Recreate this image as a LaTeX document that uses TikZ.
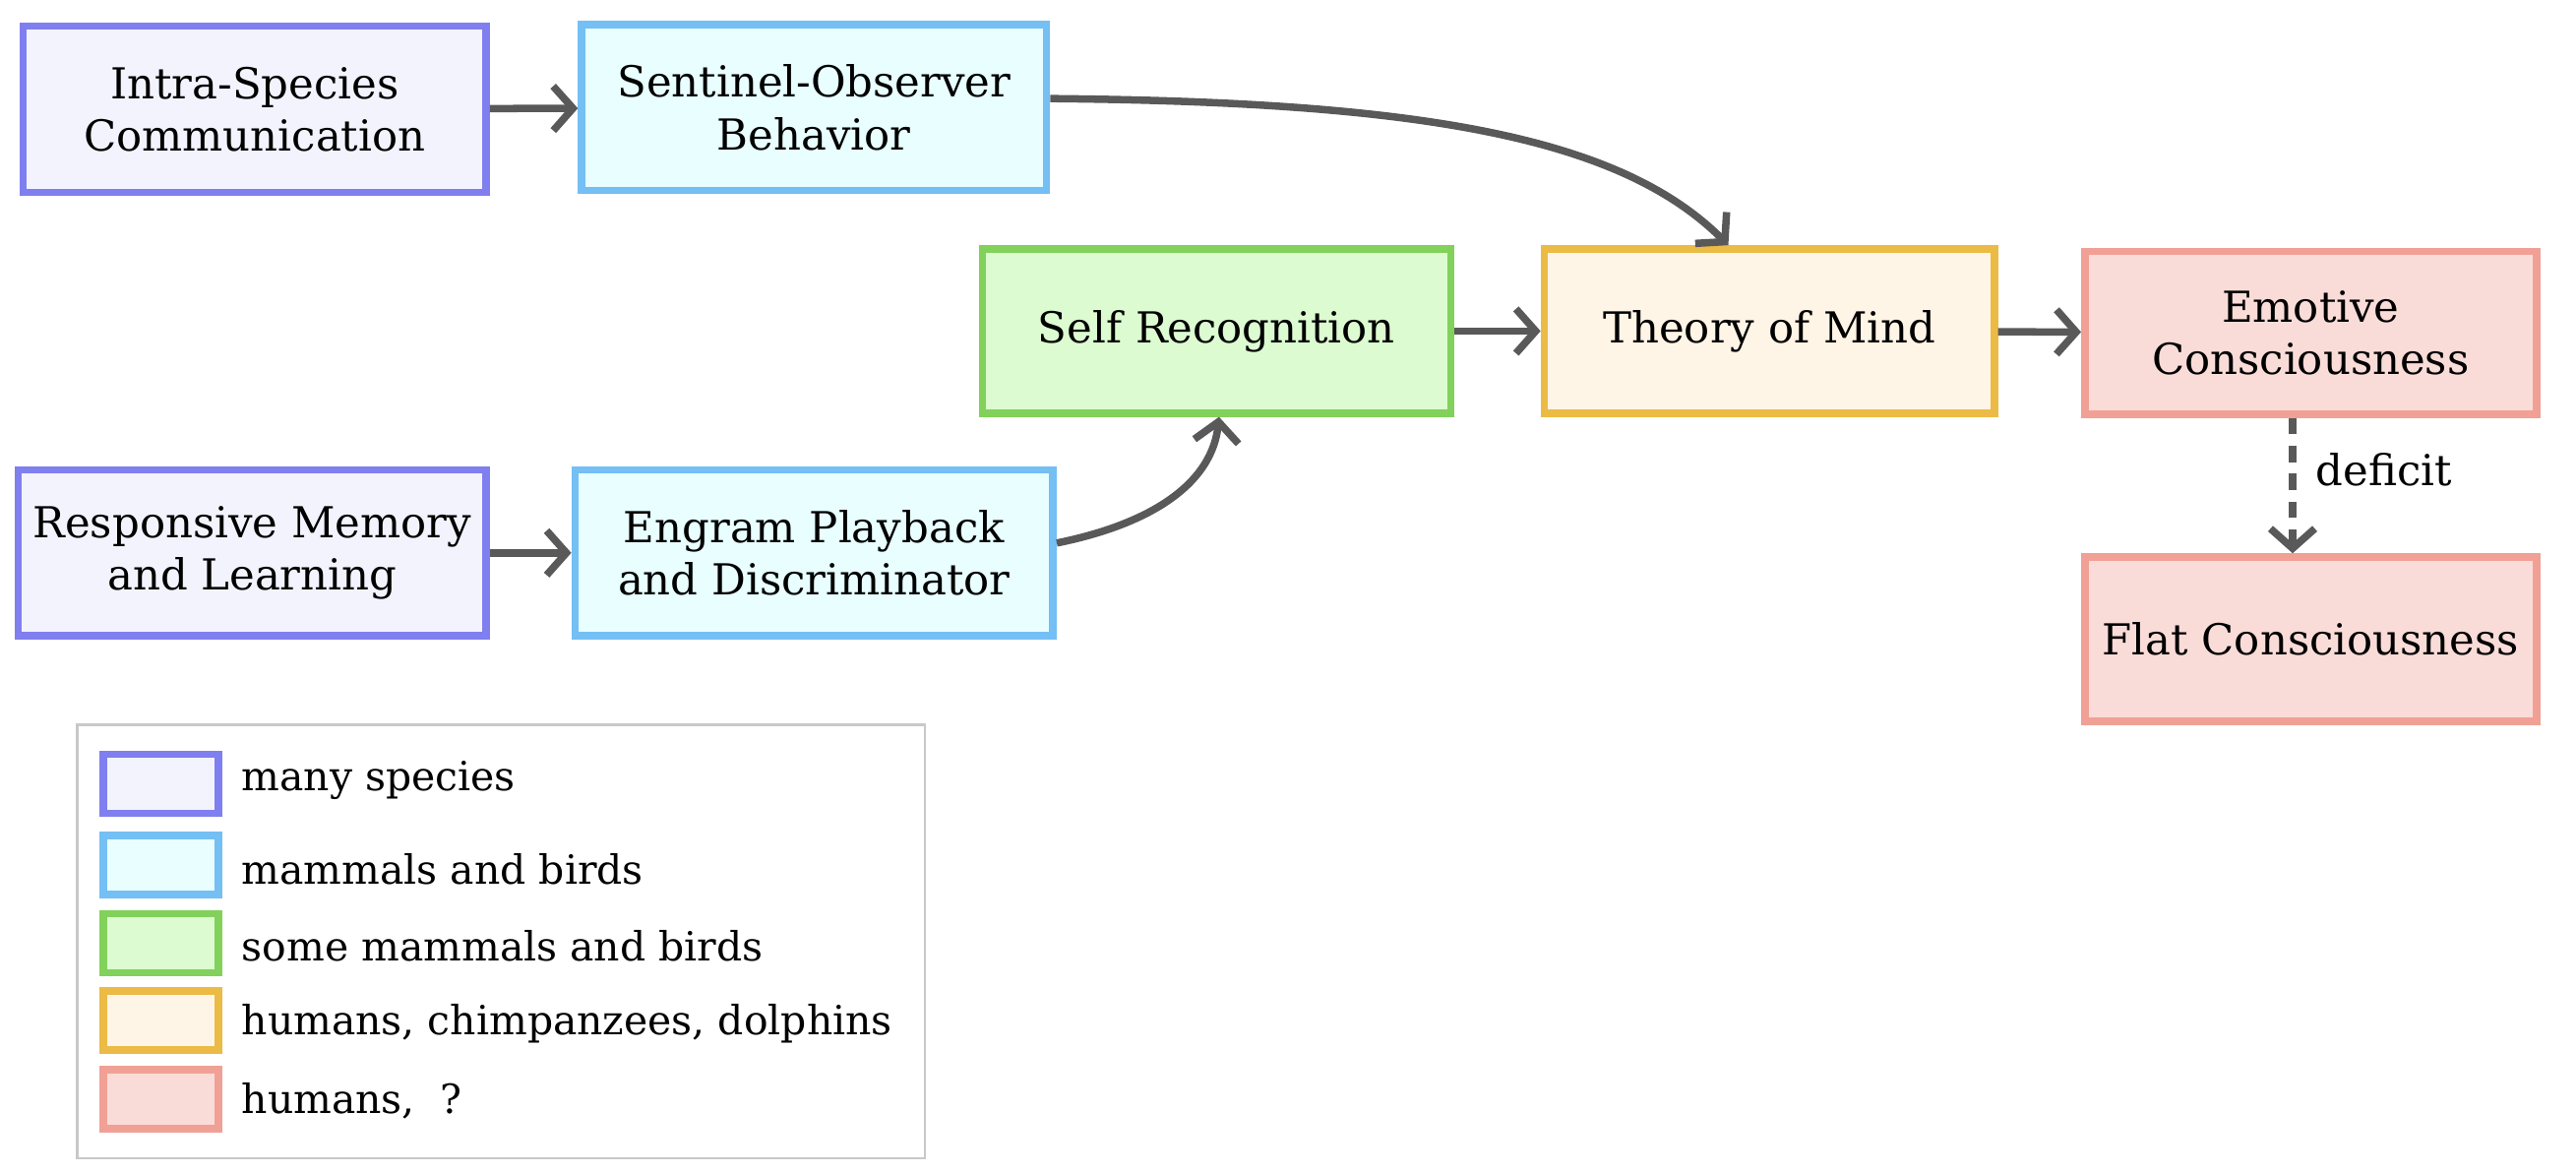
\documentclass[tikz,border=0pt]{standalone}
\usepackage{fontspec}
\setmainfont{DejaVu Serif}
\usetikzlibrary{arrows.meta}
\definecolor{purpleB}{HTML}{7F7FEF}
\definecolor{purpleF}{HTML}{F3F3FE}
\definecolor{blueB}{HTML}{74BFF4}
\definecolor{blueF}{HTML}{E8FEFF}
\definecolor{greenB}{HTML}{82D15A}
\definecolor{greenF}{HTML}{DCFBD1}
\definecolor{orangeB}{HTML}{EBBB45}
\definecolor{orangeF}{HTML}{FFF5E6}
\definecolor{redB}{HTML}{F1A096}
\definecolor{redF}{HTML}{F9DCD8}
\definecolor{edgeC}{HTML}{595959}
\definecolor{legC}{HTML}{C8C8C8}
\tikzset{
  box/.style={rectangle, line width=4.5pt, align=center, inner sep=0pt,
    font=\fontsize{26}{32}\selectfont},
  manysp/.style={box, draw=purpleB, fill=purpleF},
  mamm/.style={box, draw=blueB, fill=blueF},
  somemamm/.style={box, draw=greenB, fill=greenF},
  hcd/.style={box, draw=orangeB, fill=orangeF},
  hum/.style={box, draw=redB, fill=redF},
  arr/.style={draw=edgeC, line width=4.5pt,
    -{Straight Barb[length=12pt,width=27pt]}},
  legtext/.style={anchor=west, inner sep=0pt, font=\fontsize{24.5}{30}\selectfont},
}
\begin{document}
\begin{tikzpicture}[x=1pt,y=-1pt]
\useasboundingbox (0,0) rectangle (1568,714);
% nodes
\node[manysp, minimum width=282pt, minimum height=101pt] (intra) at (155,66.5) {Intra-Species\\Communication};
\node[mamm, minimum width=283pt, minimum height=101pt] (sent) at (495.5,65.5) {Sentinel-Observer\\Behavior};
\node[somemamm, minimum width=285pt, minimum height=100pt] (self) at (740.5,201.5) {Self Recognition};
\node[hcd, minimum width=274pt, minimum height=100pt] (tom) at (1077,201.5) {Theory of Mind};
\node[hum, minimum width=275pt, minimum height=99pt] (emo) at (1406.5,202.5) {Emotive\\Consciousness};
\node[hum, minimum width=275pt, minimum height=100pt] (flat) at (1406.5,389) {Flat Consciousness};
\node[manysp, minimum width=285pt, minimum height=101pt] (resp) at (153.5,336.5) {Responsive Memory\\and Learning};
\node[mamm, minimum width=291pt, minimum height=101pt] (engram) at (495.5,336.5) {Engram Playback\\and Discriminator};
% edges
\draw[arr] (intra) -- (sent);
\draw[arr] (resp) -- (engram);
\draw[arr] (self) -- (tom);
\draw[arr] (tom) -- (emo);
\draw[arr] ([yshift=5.5pt]sent.east) .. controls (860,62) and (985,82) .. ([xshift=-25pt]tom.north);
\draw[arr] ([yshift=6pt]engram.east) .. controls (705,318) and (738,292) .. ([xshift=1.5pt]self.south);
\draw[arr, dash pattern=on 10pt off 7pt] ([xshift=-11pt]emo.south) -- node[pos=0.38, right=12pt, inner sep=0pt, font=\fontsize{26}{32}\selectfont] (deflab) {deficit} ([xshift=-11pt]flat.north);
% legend
\node[draw=legC, line width=1.5pt, minimum width=516pt, minimum height=264pt, inner sep=0pt] (legend) at (305,573) {};
\node[manysp, minimum width=70pt, minimum height=36pt] (sw1) at (98,477) {};
\node[mamm, minimum width=70pt, minimum height=36pt] (sw2) at (98,526.5) {};
\node[somemamm, minimum width=70pt, minimum height=36pt] (sw3) at (98,574) {};
\node[hcd, minimum width=70pt, minimum height=36pt] (sw4) at (98,621) {};
\node[hum, minimum width=70pt, minimum height=36pt] (sw5) at (98,669) {};
\node[legtext] (l1) at (147,475) {many species};
\node[legtext] (l2) at (147,529) {mammals and birds};
\node[legtext] (l3) at (147,576) {some mammals and birds};
\node[legtext] (l4) at (147,623) {humans, chimpanzees, dolphins};
\node[legtext] (l5) at (147,670) {humans,~~?};
\end{tikzpicture}
\end{document}
